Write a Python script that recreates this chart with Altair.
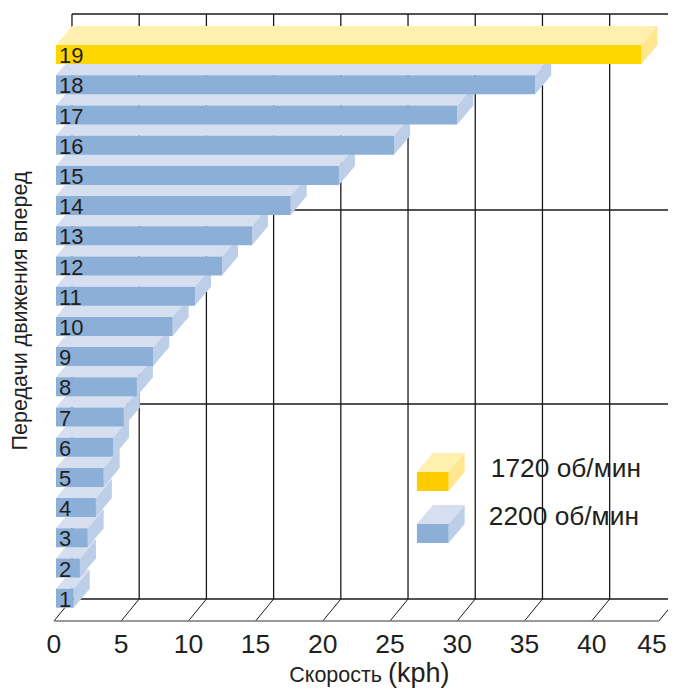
import altair as alt
import pandas as pd

gears = list(range(1, 20))
speeds = [1.47, 1.93, 2.51, 3.12, 3.70, 4.39, 5.20, 6.17, 7.39, 8.83,
          10.49, 12.50, 14.73, 17.61, 21.20, 25.30, 30.00, 35.80, 43.70]
x_ticks = [0, 5, 10, 15, 20, 25, 30, 35, 40, 45]
wall_levels = [0.9735, 7.43, 13.855, 20.345]
legend_names = ["1720 об/мин", "2200 об/мин"]

FONT = "Liberation Sans"
INK = "#231f20"
BLUE = ("#8cafd8", "#d6dfef", "#bdcfe8")
GOLD = ("#ffd500", "#fff0b0", "#ffe68f")
GOLD_KEY = ("#ffcc00", "#fff0b0", "#ffe68f")

X_MAX = 45.68
X = alt.Scale(domain=[-3.42, X_MAX], nice=False, zero=False)
Y = alt.Scale(domain=[-1.973, 20.543], nice=False, zero=False)
xq = lambda f: alt.X(f"{f}:Q", scale=X, axis=None)
x2q = lambda f: alt.X2(f"{f}:Q")
yq = lambda f: alt.Y(f"{f}:Q", scale=Y, axis=None)
y2q = lambda f: alt.Y2(f"{f}:Q")

BAR_START = 0.15
HALF = 0.3146
DEPTH_X = 1.19
DEPTH_Y = 0.629
FLOOR_X = 1.34
FLOOR_FRONT = 0.245
FLOOR_BACK = wall_levels[0]
TICK_Y = -0.56


def box(x0, x1, g, colors):
    front, top, side = colors
    lo, hi = g - HALF, g + HALF
    return [
        alt.Chart(pd.DataFrame({"y": [hi, hi + DEPTH_Y], "a": [x0, x0 + DEPTH_X], "b": [x1, x1 + DEPTH_X]}))
        .mark_area(orient="horizontal", color=top)
        .encode(y=yq("y"), x=xq("a"), x2=x2q("b")),
        alt.Chart(pd.DataFrame({"x": [x1, x1 + DEPTH_X], "a": [lo, lo + DEPTH_Y], "b": [hi, hi + DEPTH_Y]}))
        .mark_area(orient="vertical", color=side)
        .encode(x=xq("x"), y=yq("a"), y2=y2q("b")),
        alt.Chart(pd.DataFrame({"a": [x0], "b": [x1], "c": [lo], "d": [hi]}))
        .mark_rect(color=front)
        .encode(x=xq("a"), x2=x2q("b"), y=yq("c"), y2=y2q("d")),
    ]


def label(text, x, y, size, align="left", angle=0, baseline="alphabetic"):
    return alt.Chart(pd.DataFrame({"x": [x], "y": [y], "t": [text]})).mark_text(
        font=FONT, fontSize=size, color=INK, align=align, baseline=baseline, angle=angle
    ).encode(x=xq("x"), y=yq("y"), text="t:N")


layers = []

# wall: verticals and horizontals
walls = pd.DataFrame({"x": [t + FLOOR_X for t in x_ticks[:-1]]})
walls["a"] = FLOOR_BACK
walls["b"] = wall_levels[-1]
layers.append(alt.Chart(walls).mark_rule(color="#1a1a1a", strokeWidth=1.3).encode(x=xq("x"), y=yq("a"), y2=y2q("b")))

hl = pd.DataFrame({"y": wall_levels})
hl["a"] = FLOOR_X
hl["b"] = X_MAX
layers.append(alt.Chart(hl).mark_rule(color="#1a1a1a", strokeWidth=1.4).encode(y=yq("y"), x=xq("a"), x2=x2q("b")))

# floor
diag = pd.DataFrame(
    [{"t": t, "x": t, "y": FLOOR_FRONT} for t in x_ticks] +
    [{"t": t, "x": t + FLOOR_X, "y": FLOOR_BACK} for t in x_ticks]
)
layers.append(
    alt.Chart(diag).mark_line(color="#1a1a1a", strokeWidth=1, clip=True).encode(x=xq("x"), y=yq("y"), detail="t:N")
)
fl = pd.DataFrame({"y": [FLOOR_FRONT], "a": [x_ticks[0]], "b": [x_ticks[-1]]})
layers.append(alt.Chart(fl).mark_rule(color="#777777", strokeWidth=1.4).encode(y=yq("y"), x=xq("a"), x2=x2q("b")))

# bars, low gears first: each higher gear covers the one below it
for g, v in zip(gears, speeds):
    layers += box(BAR_START, v, g, GOLD if g == gears[-1] else BLUE)

# gear labels
layers.append(
    alt.Chart(pd.DataFrame({"g": gears, "t": [str(g) for g in gears], "x": 0.37}))
    .mark_text(font=FONT, fontSize=22, color=INK, align="left", baseline="middle", dy=1.5)
    .encode(x=xq("x"), y=yq("g"), text="t:N")
)

# x tick labels (the last one is held inside the page's right edge)
layers.append(
    alt.Chart(pd.DataFrame({"x": x_ticks[:-1], "t": [str(t) for t in x_ticks[:-1]], "y": TICK_Y}))
    .mark_text(font=FONT, fontSize=26.5, color=INK, align="center", baseline="middle")
    .encode(x=xq("x"), y=yq("y"), text="t:N")
)
layers.append(label(str(x_ticks[-1]), X_MAX - 0.1, TICK_Y, 26.5, align="right", baseline="middle"))

# legend
layers += box(27.0, 29.36, 4.864, GOLD_KEY)
layers += box(27.0, 29.36, 3.142, BLUE)
layers.append(label(legend_names[0], 32.5, 5.02, 26.3))
layers.append(label(legend_names[1], 32.35, 3.42, 26.3))

# titles
layers.append(label("Передачи движения вперед", -2.49, 10.51, 21.5, align="center", angle=270, baseline="middle"))
layers.append(label("Скорость", 17.5, -1.79, 21.5))
layers.append(label("(kph)", 24.85, -1.79, 27))

chart = alt.layer(*layers).properties(
    width=660, height=680, padding=0, background="white",
    autosize=alt.AutoSizeParams(type="none"),
).configure_view(stroke=None)

chart.save("out.html", embed_options={"renderer": "svg", "actions": False})
